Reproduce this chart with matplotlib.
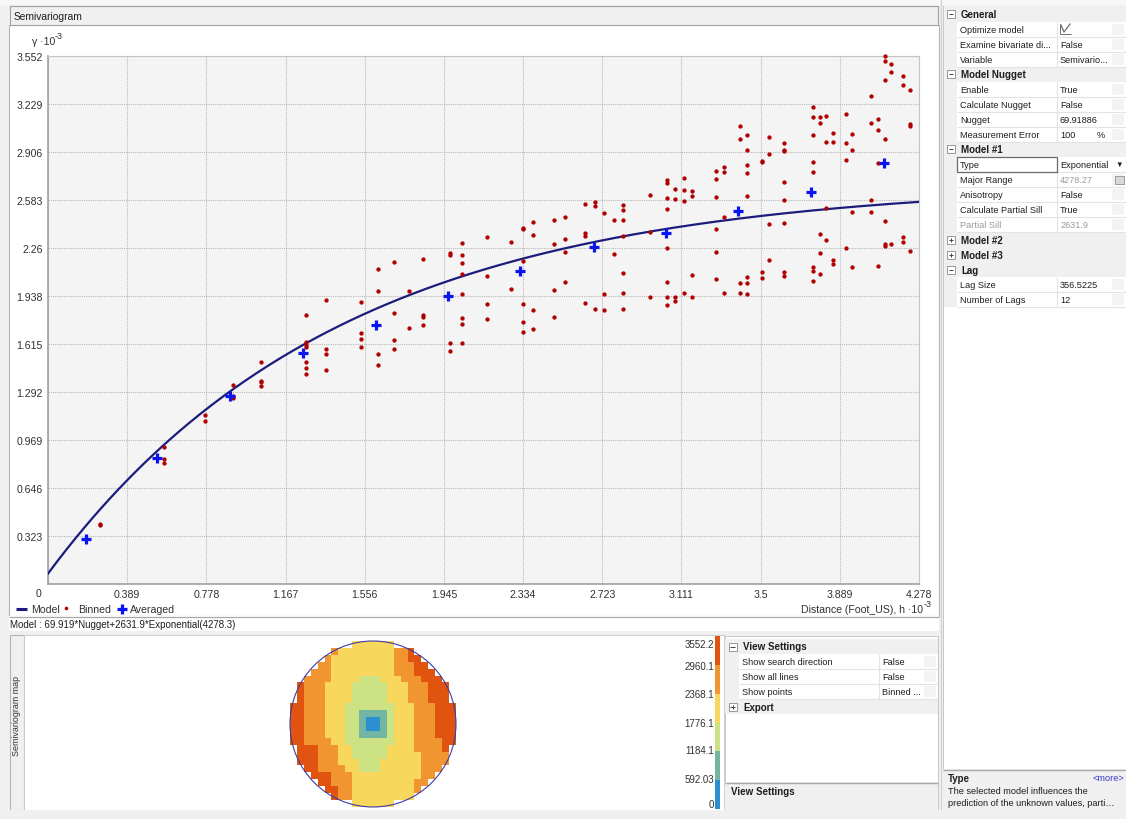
import numpy as np
import matplotlib
matplotlib.use("Agg")
import matplotlib.pyplot as plt
from matplotlib.patches import Rectangle, Circle
from matplotlib.colors import ListedColormap

plt.rcParams["font.family"] = ["Liberation Sans", "DejaVu Sans"]
NARROW = ["Liberation Sans Narrow", "Liberation Sans", "DejaVu Sans"]

W, H = 1126, 820

# ---------------- semivariogram data (both axes in 10^-3 units) ----------------
x_tick_labels = ["0", "0.389", "0.778", "1.167", "1.556", "1.945", "2.334",
                 "2.723", "3.111", "3.5", "3.889", "4.278"]
y_tick_labels = ["0", "0.323", "0.646", "0.969", "1.292", "1.615", "1.938",
                 "2.26", "2.583", "2.906", "3.229", "3.552"]
h_max = 4.278
gamma_max = 3.552

# model : 69.919*Nugget + 2631.9*Exponential(4278.3)
nugget = 69.919
partial_sill = 2631.9
major_range = 4278.3

avg_h = [0.187, 0.535, 0.894, 1.252, 1.611, 1.965, 2.318, 2.682, 3.035,
         3.389, 3.748, 4.106]
avg_gamma = [0.303, 0.848, 1.265, 1.554, 1.742, 1.937, 2.106, 2.267, 2.361,
             2.509, 2.637, 2.832]

binned_h = [0.255, 0.570, 0.770, 0.908, 1.046, 1.267, 1.364, 1.536, 1.619,
            1.698, 1.772, 1.840, 1.974, 2.035, 2.158, 2.274, 2.332, 2.383,
            2.487, 2.539, 2.639, 2.687, 2.732, 2.779, 2.824, 2.957, 3.042,
            3.081, 3.124, 3.164, 3.281, 3.320, 3.397, 3.433, 3.507, 3.541,
            3.615, 3.756, 3.790, 3.820, 3.854, 3.918, 3.949, 4.043, 4.078,
            4.109, 4.140, 4.199, 4.232]
binned_gamma = [
    [0.407, 0.398],
    [0.922, 0.841, 0.814],
    [1.137, 1.094],
    [1.339, 1.267, 1.253],
    [1.495, 1.368, 1.357, 1.330],
    [1.810, 1.626, 1.605, 1.592, 1.495, 1.453, 1.411],
    [1.911, 1.581, 1.547, 1.442],
    [1.899, 1.691, 1.648, 1.594],
    [2.119, 1.969, 1.547, 1.475],
    [2.166, 1.825, 1.641, 1.581],
    [1.969, 1.720],
    [2.188, 1.810, 1.794, 1.744],
    [2.224, 2.213, 1.619, 1.565],
    [2.292, 2.213, 2.159, 2.085, 1.951, 1.792, 1.749, 1.623],
    [2.332, 2.070, 1.884, 1.780],
    [2.302, 1.986],
    [2.397, 2.388, 2.175, 1.881, 1.760, 1.695],
    [2.436, 2.350, 1.843, 1.713],
    [2.451, 2.289, 1.975, 1.794],
    [2.467, 2.321, 2.231, 2.030],
    [2.556, 2.360, 2.344, 1.888],
    [2.568, 2.543, 1.850],
    [2.498, 1.951, 1.843],
    [2.446, 2.220],
    [2.549, 2.518, 2.446, 2.341, 2.092, 1.958, 1.850],
    [2.614, 2.370, 1.929],
    [2.718, 2.700, 2.599, 2.523, 2.260, 2.034, 1.929, 1.879],
    [2.659, 2.588, 1.933, 1.902],
    [2.731, 2.653, 2.577, 1.958],
    [2.646, 2.612, 2.077, 1.929],
    [2.778, 2.724, 2.605, 2.390, 2.231, 2.052],
    [2.802, 2.773, 2.467, 1.958],
    [3.081, 2.993, 2.023, 1.958],
    [3.020, 2.921, 2.820, 2.762, 2.612, 2.065, 2.026, 1.951],
    [2.847, 2.836, 2.101, 2.059],
    [3.004, 2.892, 2.422, 2.182],
    [2.968, 2.921, 2.915, 2.706, 2.581, 2.429, 2.096, 2.074],
    [3.206, 3.141, 3.018, 2.838, 2.773, 2.130, 2.107, 2.040],
    [3.141, 3.101, 2.357, 2.227, 2.083],
    [3.148, 2.971, 2.529, 2.316],
    [3.036, 2.975, 2.182, 2.153],
    [3.159, 2.968, 2.850, 2.258],
    [3.029, 2.921, 2.500, 2.130],
    [3.285, 3.101, 2.583, 2.500],
    [3.130, 3.052, 2.832, 2.141],
    [3.554, 3.518, 3.393, 2.993, 2.444, 2.287, 2.276],
    [3.500, 3.446, 2.289],
    [3.415, 3.357, 2.334, 2.299],
    [3.321, 3.094, 3.079, 2.242],
]

# ---------------- semivariogram map (class index per cell, '.' = empty) --------
map_rows = [
    ".........333333.........",
    "......433333333445......",
    ".....43333333334455.....",
    "....4433333333344455....",
    "...444333333333444555...",
    "..44443333222333444555..",
    ".5444333322222333444555.",
    ".5444333322222333444555.",
    ".5444333322222333444555.",
    "554443332222222333444555",
    "554443332211112333444555",
    "554443332210012333444555",
    "554443332210012333444555",
    "554443332211112333444555",
    "554444332222222333444455",
    ".5554443322222333344445.",
    ".5554443322222333334444.",
    ".5554443332223333334444.",
    "..55444433222333333444..",
    "...555444333333333344...",
    "....5544433333333344....",
    ".....55443333333334.....",
    "......544333333333......",
    ".........333333.........",
]
map_colors = ["#2b8fd0", "#73b5a3", "#cde383", "#f7d75c", "#f0952f", "#e1540f"]
map_breaks = ["3552.2", "2960.1", "2368.1", "1776.1", "1184.1", "592.03", "0"]

# ---------------- property grids ----------------
prop_labels = ["General", "Optimize model", "Examine bivariate di...", "Variable",
               "Model Nugget", "Enable", "Calculate Nugget", "Nugget",
               "Measurement Error", "Model #1", "Type", "Major Range",
               "Anisotropy", "Calculate Partial Sill", "Partial Sill",
               "Model #2", "Model #3", "Lag", "Lag Size", "Number of Lags"]
prop_values = ["", "", "False", "Semivario...", "", "True", "False", "69.91886",
               "100", "", "Exponential", "4278.27", "False", "True", "2631.9",
               "", "", "", "356.5225", "12"]
prop_kinds = ["open", "item", "item", "item", "open", "item", "item", "item",
              "item", "open", "item", "grey_val", "item", "item", "grey",
              "closed", "closed", "open", "item", "item"]

view_labels = ["View Settings", "Show search direction", "Show all lines",
               "Show points", "Export"]
view_values = ["", "False", "False", "Binned ...", ""]
view_kinds = ["open", "item", "item", "item", "closed"]

TXT = "#1e1e1e"
GRID_LINE = "#e3e3e3"
PANEL_GREY = "#f0f0f0"

fig = plt.figure(figsize=(W / 100, H / 100), dpi=100, facecolor=PANEL_GREY)
bg = fig.add_axes([0, 0, 1, 1])
bg.set_xlim(0, W)
bg.set_ylim(H, 0)
bg.axis("off")


def px_axes(x, y, w, h):
    return fig.add_axes([x / W, 1 - (y + h) / H, w / W, h / H])


def rect(x0, y0, x1, y1, fc, ec="none", lw=0.8, z=1):
    bg.add_patch(Rectangle((x0, y0), x1 - x0, y1 - y0, fc=fc, ec=ec, lw=lw, zorder=z))


def hline(x0, x1, y, color="#a0a0a0", lw=0.8, z=2):
    bg.plot([x0, x1], [y, y], color=color, lw=lw, zorder=z, solid_capstyle="butt")


def vline(x, y0, y1, color="#a0a0a0", lw=0.8, z=2):
    bg.plot([x, x], [y0, y1], color=color, lw=lw, zorder=z, solid_capstyle="butt")


def expander(cx, cy, is_open):
    rect(cx - 4, cy - 4, cx + 4, cy + 4, "white", "#8a8a8a", 0.6, z=4)
    hline(cx - 2.2, cx + 2.2, cy, "#404040", 0.7, z=5)
    if not is_open:
        vline(cx, cy - 2.2, cy + 2.2, "#404040", 0.7, z=5)


def prop_grid(x0, x1, y0, labels, values, kinds, margin, sep_x, row_h=15.05,
              fs=6.6):
    for i, (lab, val, kind) in enumerate(zip(labels, values, kinds)):
        yc = y0 + i * row_h
        top, bot = yc - row_h / 2, yc + row_h / 2
        if kind in ("open", "closed"):
            rect(x0, top, x1, bot, PANEL_GREY, z=2)
            expander(x0 + margin / 2 + 0.5, yc, kind == "open")
            bg.text(x0 + margin + 4, yc, lab, fontsize=fs + 0.4, weight="bold",
                    color=TXT, va="center", ha="left", zorder=5)
            continue
        rect(x0, top, x0 + margin, bot, PANEL_GREY, z=2)
        rect(x0 + margin, top, x1, bot, "white", z=2)
        hline(x0 + margin, x1, bot, GRID_LINE, 0.8, z=3)
        vline(sep_x, top, bot, GRID_LINE, 0.8, z=3)
        lab_col = "#9a9a9a" if kind == "grey" else TXT
        val_col = "#9a9a9a" if kind in ("grey", "grey_val") else TXT
        bg.text(x0 + margin + 3, yc, lab, fontsize=fs, color=lab_col,
                va="center", ha="left", zorder=5)
        bg.text(sep_x + 3, yc, val, fontsize=fs, color=val_col,
                va="center", ha="left", zorder=5)
        # faint button column at the right
        rect(x1 - 14, top + 2, x1 - 2, bot - 2, "#f3f3f3", z=3)


# ---------------- panels / frames ----------------
rect(0, 0, W, 6, "#f7f7f7", z=0)
rect(9, 26, 939, 617, "white", "#b4b4b4", 0.8, z=0.5)
rect(10, 7, 938, 26, PANEL_GREY, "#a0a0a0", 0.8, z=1)
bg.text(14, 16.5, "Semivariogram", fontsize=7.4, color=TXT, va="center", zorder=5)
rect(9, 617, 939, 632, "white", "none", z=0.5)
hline(9, 939, 617.5, "#a8a8a8", 0.9)
bg.text(10, 625, "Model : %.3f*Nugget+%.1f*Exponential(%.1f)"
        % (nugget, partial_sill, major_range),
        fontsize=7.0, family=NARROW, color=TXT, va="center", zorder=5)

# lower panel
rect(10, 636, 24, 811, PANEL_GREY, "#b4b4b4", 0.8, z=1)
bg.text(16.5, 716, "Semivariogram map", rotation=90, fontsize=6.4, family=NARROW,
        color="#333333", va="center", ha="center", zorder=5)
rect(24, 636, 724, 811, "white", "#c8c8c8", 0.6, z=1)
rect(725, 637, 938, 811, "white", "#c0c0c0", 0.6, z=1)
rect(725, 783, 938, 811, PANEL_GREY, "none", z=2)
hline(725, 938, 783.5, "#a8a8a8", 1.0)
bg.text(731, 792, "View Settings", fontsize=7.0, weight="bold", color=TXT,
        va="center", zorder=5)
prop_grid(725, 938, 647.5, view_labels, view_values, view_kinds, margin=14,
          sep_x=879)

# right panel
rect(943, 7, 1126, 770, "white", "#c0c0c0", 0.6, z=1)
prop_grid(944, 1126, 15, prop_labels, prop_values, prop_kinds, margin=13,
          sep_x=1057)
rect(943, 770, 1126, 811, PANEL_GREY, "none", z=2)
hline(943, 1126, 770.5, "#a8a8a8", 1.0)
bg.text(948, 779, "Type", fontsize=7.0, weight="bold", color=TXT, va="center",
        zorder=5)
bg.text(1124, 779, "<more>", fontsize=6.6, color="#3a3ad0", va="center",
        ha="right", zorder=5)
bg.text(948, 792, "The selected model influences the", fontsize=6.6, color=TXT,
        va="center", zorder=5)
bg.text(948, 804, "prediction of the unknown values, parti\u2026", fontsize=6.6,
        color=TXT, va="center", zorder=5)

# details in the right property grid
type_y = 15 + 10 * 15.05
rect(957, type_y - 7.3, 1057, type_y + 7.3, "none", "#6a6a6a", 0.9, z=6)
rect(1111, type_y - 6, 1126, type_y + 6, "white", "none", z=6)
bg.text(1119, type_y, "\u25bc", fontsize=5.5, color="#222222", va="center",
        ha="center", zorder=7)
mr_y = 15 + 11 * 15.05
rect(1115, mr_y - 4, 1124, mr_y + 4, "#d8d8d8", "#909090", 0.6, z=6)
meas_y = 15 + 8 * 15.05
bg.text(1097, meas_y, "%", fontsize=6.6, color=TXT, va="center", zorder=6)
opt_y = 15 + 15.05
bg.plot([1061, 1064, 1067, 1070], [opt_y - 4, opt_y + 3, opt_y - 1, opt_y - 5],
        color="#6d6d6d", lw=0.9, zorder=6)
hline(1060, 1071, opt_y + 4.5, "#6d6d6d", 0.7, z=6)
vline(1060, opt_y - 5, opt_y + 4.5, "#6d6d6d", 0.7, z=6)

vline(940.5, 0, 811, "#d0d0d0", 0.8)
rect(0, 811, W, H, PANEL_GREY, "none", z=2)

# ---------------- main semivariogram plot ----------------
ax = px_axes(48, 57, 871, 528)
ax.set_facecolor("#f4f4f4")
ax.set_xlim(0, h_max)
ax.set_ylim(0, gamma_max)
x_ticks = np.linspace(0, h_max, len(x_tick_labels))
y_ticks = np.linspace(0, gamma_max, len(y_tick_labels))
ax.set_xticks(x_ticks)
ax.set_xticklabels([""] + x_tick_labels[1:])
ax.set_yticks(y_ticks)
ax.set_yticklabels([""] + y_tick_labels[1:])
for lab in ax.get_xticklabels() + ax.get_yticklabels():
    lab.set_family(NARROW)
ax.tick_params(length=0, labelsize=7.6, labelcolor="#303030")
ax.tick_params(axis="x", pad=3.5)
ax.tick_params(axis="y", pad=3.6)
ax.grid(True, color="#b9b9b9", lw=0.8, linestyle=(0, (1, 1)))
ax.set_axisbelow(True)
for side in ("left", "bottom"):
    ax.spines[side].set_color("#9a9a9a")
    ax.spines[side].set_linewidth(1.1)
for side in ("top", "right"):
    ax.spines[side].set_color("#c4c4c4")
    ax.spines[side].set_linewidth(0.8)

hh = np.linspace(0, h_max, 300)
model = (nugget + partial_sill * (1 - np.exp(-3 * hh * 1000 / major_range))) / 1000
ax.plot(hh, model, color="#1c1c7c", lw=1.6, zorder=3)

bx = np.concatenate([[h] * len(g) for h, g in zip(binned_h, binned_gamma)])
by = np.concatenate(binned_gamma)
ax.plot(bx, by, linestyle="none", marker="o", ms=3.1, mew=0, mfc="#b00000",
        zorder=4, clip_on=False)
ax.plot(avg_h, avg_gamma, linestyle="none", marker="+", ms=7.5, mew=2.3,
        color="#0a14f0", zorder=5)

# axis captions & legend (drawn in pixel space)
bg.text(39, 594, "0", fontsize=7.6, family=NARROW, color="#303030",
        ha="center", va="center", zorder=5)
bg.text(32, 42, "\u03b3 \u00b710", fontsize=7.6, color="#303030", va="center",
        zorder=5)
bg.text(54.5, 36.5, "-3", fontsize=6.4, color="#303030", va="center", zorder=5)
bg.text(923, 610, "Distance (Foot_US), h \u00b710", fontsize=7.6, family=NARROW,
        color="#303030", ha="right", va="center", zorder=5)
bg.text(924, 605, "-3", fontsize=6.4, color="#303030", va="center", zorder=5)

hline(16, 27, 610, "#1c1c7c", 2.2, z=5)
bg.text(31, 610, "Model", fontsize=7.6, family=NARROW, color="#303030",
        va="center", zorder=5)
bg.plot([65.7], [609], marker="o", ms=2.6, mew=0, color="#b00000", zorder=5)
bg.text(78, 610, "Binned", fontsize=7.6, family=NARROW, color="#303030",
        va="center", zorder=5)
bg.plot([122], [610], marker="+", ms=7.5, mew=2.3, color="#0a14f0", zorder=5)
bg.text(130, 610, "Averaged", fontsize=7.6, family=NARROW, color="#303030",
        va="center", zorder=5)

# ---------------- semivariogram map ----------------
n = len(map_rows)
assert all(len(row) == n for row in map_rows)
grid = np.full((n, n), np.nan)
for r, row in enumerate(map_rows):
    for c, ch in enumerate(row):
        if ch != ".":
            grid[r, c] = int(ch)
mx = px_axes(290, 642, 166, 166)
mx.imshow(np.ma.masked_invalid(grid), cmap=ListedColormap(map_colors),
          vmin=-0.5, vmax=5.5, extent=(0, n, n, 0), interpolation="nearest")
mx.add_patch(Circle((n / 2, n / 2), n / 2, fill=False, ec="#3b3ba8", lw=0.8,
                    clip_on=False))
mx.set_xlim(0, n)
mx.set_ylim(n, 0)
mx.axis("off")

# color legend of the map
cb_top, cb_bot = 637, 810
seg = (cb_bot - cb_top) / len(map_colors)
for i, col in enumerate(map_colors[::-1]):
    rect(715, cb_top + i * seg, 720, cb_top + (i + 1) * seg, col, z=4)
label_y = [645, 667, 695, 724, 751, 780, 805]
for lab, yy in zip(map_breaks, label_y):
    bg.text(714, yy, lab, fontsize=7.0, family=NARROW, color="#303030",
            ha="right", va="center", zorder=5)

fig.savefig("out.png", dpi=100, facecolor=fig.get_facecolor())
